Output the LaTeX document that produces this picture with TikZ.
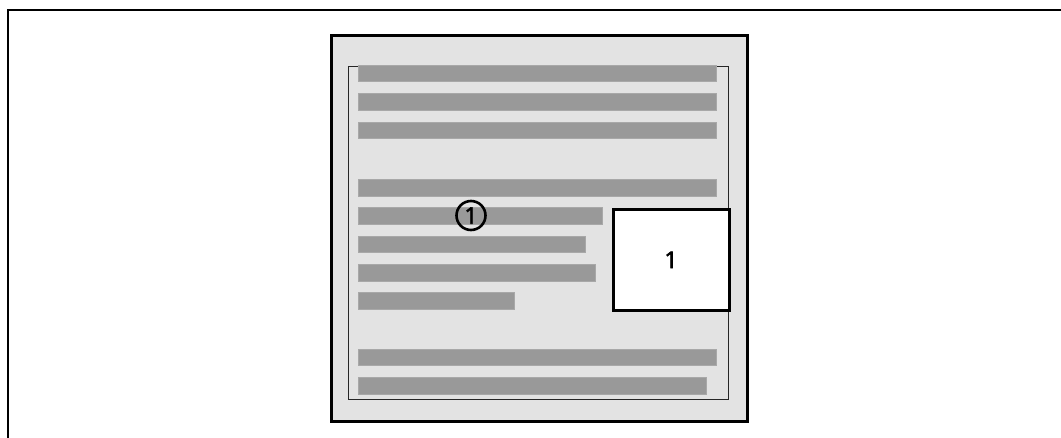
\documentclass[tikz,border=0pt]{standalone}
\usepackage{fontspec}
\setmainfont{Open Sans}
\newfontfamily\digitfont{Open Sans}[FakeBold=2.5]
\definecolor{pagefill}{HTML}{E3E3E3}
\definecolor{barfill}{HTML}{999999}
\begin{document}
\begin{tikzpicture}[x=1pt,y=-1pt,
  frameline/.style={line width=2.8pt,black},
  pagebox/.style={draw=black,line width=3pt,fill=pagefill},
  innerbox/.style={draw=black!85,line width=1.6pt},
  textbar/.style={fill=barfill,draw=barfill!85!white,line width=0.6pt},
  figbox/.style={draw=black,line width=3pt,fill=white,inner sep=0pt,font=\digitfont\fontsize{23}{27}\selectfont},
  callout/.style={circle,draw=black,line width=2.6pt,fill=none,inner sep=0pt,minimum size=29pt,font=\digitfont\fontsize{23}{27}\selectfont}]
\useasboundingbox (0,0) rectangle (1061,437);
% outer frame (top and left edges only)
\coordinate (fTL) at (8,10);
\coordinate (fTR) at (1062,10);
\coordinate (fBL) at (8,438);
\draw[frameline] (fTR) -- (fTL) -- (fBL);
% page
\node[pagebox,minimum width=416pt,minimum height=386pt,inner sep=0pt,anchor=north west] (page) at (329.5,33.5) {};
\node[innerbox,minimum width=380pt,minimum height=333pt,inner sep=0pt,anchor=north west] (inner) at (347.5,65.5) {};
% text bars
\foreach \y/\r in {65/716, 93.5/716, 122/716, 179.5/716, 207.5/602.5, 236/585, 264.5/595.5, 292.5/514, 349/716, 377.5/706}
  \draw[textbar] (358.5,\y) rectangle (\r,\y+16.5);
% figure box
\node[figbox,minimum width=116pt,minimum height=101pt,anchor=north west] (fig) at (611.5,207.8) {1};
% callout
\node[callout] (c1) at (471,215.5) {1};
\end{tikzpicture}
\end{document}
